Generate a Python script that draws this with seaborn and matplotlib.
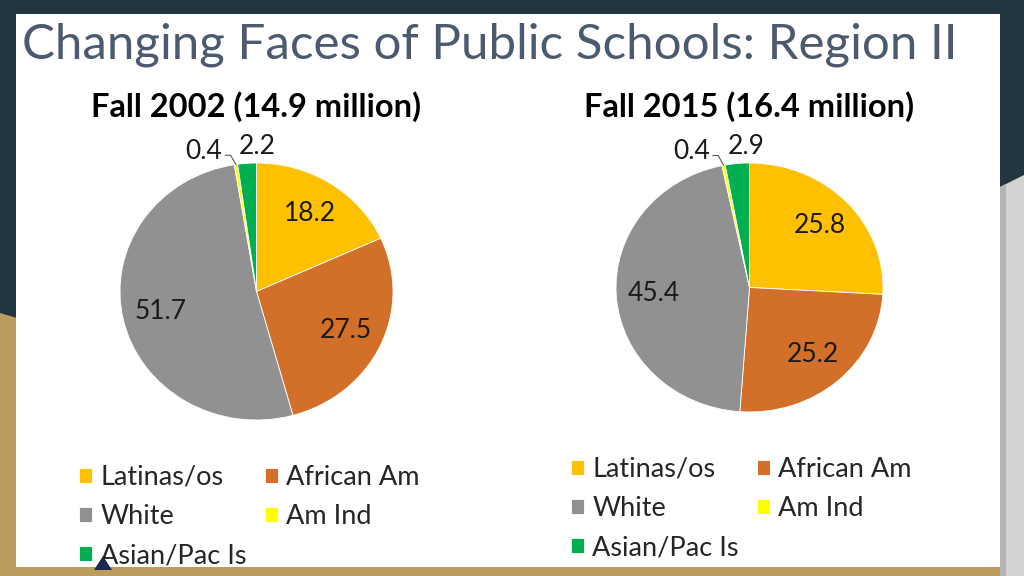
import numpy as np
import matplotlib.pyplot as plt
import matplotlib.patches as mpatches
import seaborn as sns

# ------------------- Data -------------------
groups = ['Latinas/os', 'African Am', 'White', 'Am Ind', 'Asian/Pac Is']
fall_2002 = [18.2, 27.5, 51.7, 0.4, 2.2]
fall_2015 = [25.8, 25.2, 45.4, 0.4, 2.9]
panel_titles = ['Fall 2002 (14.9 million)', 'Fall 2015 (16.4 million)']
slide_title = 'Changing Faces of Public Schools: Region II'

sns.set_theme(style='white')
plt.rcParams['font.family'] = ['Lato', 'DejaVu Sans']
colors = sns.color_palette(['#FFC000', '#D2702A', '#919191', '#FFFF00', '#00B050'])

W, H = 1024, 576
fig = plt.figure(figsize=(W / 100, H / 100), dpi=100, facecolor='#22363f')


def fx(x):
    return x / W


def fy(y):
    return 1 - y / H


def poly(pts, color):
    fig.patches.append(mpatches.Polygon([(fx(x), fy(y)) for x, y in pts], closed=True,
                                        transform=fig.transFigure, facecolor=color,
                                        edgecolor='none', zorder=-1))


# ------------------- Slide background -------------------
poly([(0, 313), (17, 318), (17, 567), (1000, 567), (1000, 576), (0, 576)], '#bb9c5c')
poly([(1000, 187), (1024, 175), (1024, 576), (1000, 576)], '#d2d2d2')
poly([(1000, 187), (1006, 184), (1006, 576), (1000, 576)], '#b4b4b4')
poly([(16, 14), (1000, 14), (1000, 567), (16, 567)], 'white')
poly([(103, 556), (112, 570), (94, 570)], '#1b2a55')

fig.text(fx(22), fy(45), slide_title, fontsize=35.5, color='#4b5a6e', ha='left', va='center')


# ------------------- Pie panels -------------------
def pie_panel(values, title, cx, cy, rx, ry, leg_x, leg_y):
    ax = fig.add_axes([fx(cx - rx), fy(cy + ry), 2 * rx / W, 2 * ry / H])
    wedges, _ = ax.pie(values, colors=colors, startangle=90, counterclock=False,
                       wedgeprops=dict(edgecolor='white', linewidth=0.6))
    ax.set_aspect('auto')
    ax.set_xlim(-1, 1)
    ax.set_ylim(-1, 1)

    for w, v in zip(wedges, values):
        mid = np.deg2rad((w.theta1 + w.theta2) / 2)
        if v >= 5:
            ax.text(0.72 * np.cos(mid), 0.72 * np.sin(mid), f'{v:.1f}', ha='center', va='center',
                    fontsize=19, color='#1a1a1a')
        elif v >= 1:
            ax.text(1.12 * np.cos(mid) + 0.08, 1.13, f'{v:.1f}', ha='center', va='center',
                    fontsize=19, color='#1a1a1a', clip_on=False)
        else:
            ex, ey = np.cos(mid), np.sin(mid)
            ax.text(ex - 0.1, 1.09, f'{v:.1f}', ha='right', va='center',
                    fontsize=19, color='#1a1a1a', clip_on=False)
            ax.plot([ex - 0.08, ex - 0.04, ex], [1.06, 1.06, ey], color='#595959', lw=0.8,
                    clip_on=False)

    fig.text(fx(cx), fy(107), title, fontsize=23.5, fontweight='bold', color='black',
             ha='center', va='center')

    order = [0, 2, 4, 1, 3]
    fig.legend([wedges[i] for i in order], [groups[i] for i in order], ncol=2,
               loc='upper left', bbox_to_anchor=(fx(leg_x), fy(leg_y)), frameon=False,
               fontsize=19.5, handlelength=0.48, handleheight=0.48, handletextpad=0.31,
               columnspacing=0.67, labelspacing=0.52, borderpad=0, borderaxespad=0)


pie_panel(fall_2002, panel_titles[0], 256.5, 291.5, 136.5, 128.5, 79, 465)
pie_panel(fall_2015, panel_titles[1], 749.5, 287.5, 133.5, 124.5, 571, 457)

fig.savefig('out.png', dpi=100, facecolor=fig.get_facecolor())
